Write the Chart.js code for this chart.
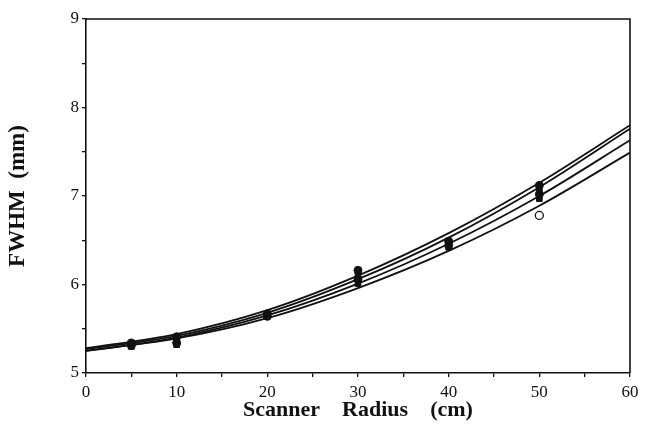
<!DOCTYPE html>
<html>
<head>
<meta charset="utf-8">
<script src="https://cdn.jsdelivr.net/npm/chart.js@4.4.0/dist/chart.umd.min.js"></script>
<style>
  html, body { margin: 0; padding: 0; background: #fff; }
  #wrap { width: 645px; height: 428px; }
</style>
</head>
<body>
<div id="wrap"><canvas id="chart" width="645" height="428"></canvas></div>
<script>
// fitted curves, read at every 10 cm
const curveRadius = [0, 10, 20, 30, 40, 50, 60];
const curveA = [5.28, 5.44, 5.71, 6.10, 6.58, 7.15, 7.80];
const curveB = [5.27, 5.42, 5.68, 6.06, 6.53, 7.10, 7.76];
const curveC = [5.25, 5.40, 5.65, 6.01, 6.46, 7.00, 7.63];
const curveD = [5.25, 5.39, 5.62, 5.96, 6.38, 6.89, 7.49];

// measured points
const pointRadius = [5, 10, 20, 30, 40, 50];
const measured1 = [5.34, 5.41, 5.67, 6.16, 6.49, 7.12];
const measured2 = [5.33, 5.37, 5.66, 6.11, 6.46, 7.07];
const measured3 = [5.31, 5.34, 5.64, 6.06, 6.44, 7.02];
const measured4 = [5.30, 5.32, 5.64, 6.01, 6.42, 6.97];
const outlierRadius = [50];
const outlierValue = [6.78];

const xTicks = [0, 10, 20, 30, 40, 50, 60];
const yTicks = [5, 6, 7, 8, 9];

function pts(xs, ys){ return xs.map((x,i)=>({x:x, y:ys[i]})); }

function curve(data){
  return { type:'line', data: pts(curveRadius, data), borderColor:'#111', borderWidth:1.8,
    pointRadius:0, fill:false, cubicInterpolationMode:'monotone' };
}
function marks(data, style){
  return { type:'scatter', data: pts(pointRadius, data), pointStyle:style,
    pointRadius:4, backgroundColor:'#111', borderColor:'#111', borderWidth:1 };
}

// frame on top and right
const frame = {
  id:'frame',
  afterDraw(chart){
    const a = chart.chartArea, ctx = chart.ctx;
    ctx.save();
    ctx.strokeStyle = '#111';
    ctx.lineWidth = 1.6;
    ctx.beginPath();
    ctx.moveTo(a.left, a.top);
    ctx.lineTo(a.right, a.top);
    ctx.lineTo(a.right, a.bottom);
    ctx.stroke();
    ctx.restore();
  }
};

const serif = 'Liberation Serif, Times New Roman, serif';

new Chart(document.getElementById('chart').getContext('2d'), {
  data: {
    datasets: [
      curve(curveA), curve(curveB), curve(curveC), curve(curveD),
      marks(measured1, 'circle'), marks(measured2, 'rect'),
      marks(measured3, 'circle'), marks(measured4, 'rect'),
      { type:'scatter', data: pts(outlierRadius, outlierValue), pointStyle:'circle',
        pointRadius:4, backgroundColor:'#fff', borderColor:'#111', borderWidth:1.3 }
    ]
  },
  options: {
    responsive: false,
    animation: false,
    layout: { padding: { top: 19, right: 15, left: 0, bottom: 0 } },
    plugins: { legend: { display:false }, tooltip: { enabled:false } },
    scales: {
      x: {
        type:'linear', min:0, max:60,
        afterFit(s){ s.height = 55; },
        afterBuildTicks(s){ s.ticks = []; for(let v=0; v<=60; v+=5) s.ticks.push({value:v}); },
        border: { color:'#111', width:1.6 },
        grid: { drawOnChartArea:false, color:'#111', tickLength:4, lineWidth:1.3 },
        ticks: { color:'#111', font:{ family:serif, size:17 }, padding:5, maxRotation:0, autoSkip:false,
          callback: v => xTicks.includes(v) ? String(v) : '' },
        title: { display:true, text:'Scanner    Radius    (cm)', color:'#111',
          font:{ family:serif, size:22, weight:'bold' }, padding:{ top:4, bottom:4 } }
      },
      y: {
        type:'linear', min:5, max:9,
        afterFit(s){ s.width = 86; },
        afterBuildTicks(s){ s.ticks = []; for(let v=5; v<=9.001; v+=0.5) s.ticks.push({value:v}); },
        border: { color:'#111', width:1.6 },
        grid: { drawOnChartArea:false, color:'#111', tickLength:4, lineWidth:1.3 },
        ticks: { color:'#111', font:{ family:serif, size:17 }, padding:3, autoSkip:false,
          callback: v => yTicks.includes(v) ? String(v) : '' },
        title: { display:true, text:'FWHM  (mm)', color:'#111',
          font:{ family:serif, size:23, weight:'bold' }, padding:{ top:4, bottom:4 } }
      }
    }
  },
  plugins: [frame]
});
</script>
</body>
</html>
